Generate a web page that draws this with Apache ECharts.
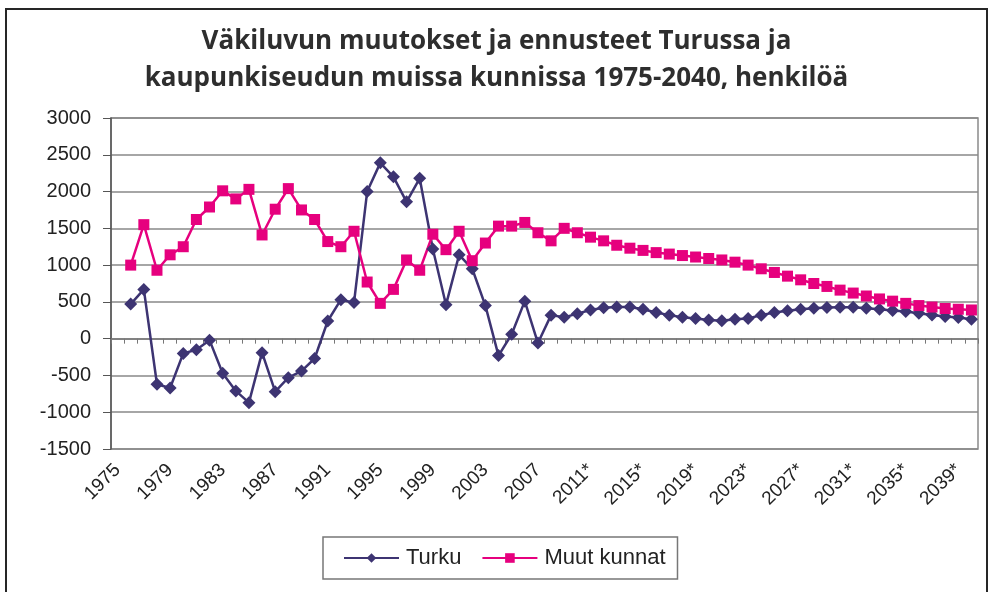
<!DOCTYPE html>
<html>
<head>
<meta charset="utf-8">
<script src="https://cdn.jsdelivr.net/npm/echarts@6/dist/echarts.min.js"></script>
<style>
html,body{margin:0;padding:0;background:#fff;}
#frame{position:absolute;left:5px;top:8px;width:983px;height:600px;border:2px solid #262626;box-sizing:border-box;}
#chart{position:absolute;left:0;top:0;width:993px;height:592px;}
</style>
</head>
<body>
<div id="frame"></div>
<div id="chart"></div>
<script>
const titleLines = ["Väkiluvun muutokset ja ennusteet Turussa ja", "kaupunkiseudun muissa kunnissa 1975-2040, henkilöä"];
const years = ["1975","1976","1977","1978","1979","1980","1981","1982","1983","1984","1985","1986","1987","1988","1989","1990","1991","1992","1993","1994","1995","1996","1997","1998","1999","2000","2001","2002","2003","2004","2005","2006","2007","2008*","2009*","2010*","2011*","2012*","2013*","2014*","2015*","2016*","2017*","2018*","2019*","2020*","2021*","2022*","2023*","2024*","2025*","2026*","2027*","2028*","2029*","2030*","2031*","2032*","2033*","2034*","2035*","2036*","2037*","2038*","2039*","2040*"];
const turku = [null,470,670,-620,-670,-200,-150,-20,-470,-710,-870,-190,-720,-530,-440,-270,240,530,490,2000,2390,2200,1860,2180,1220,460,1140,950,450,-230,60,510,-60,320,290,340,390,420,430,430,400,355,320,290,275,255,245,265,275,320,355,380,400,415,423,428,428,415,400,382,368,346,323,300,287,265];
const muut = [null,1000,1550,930,1140,1250,1620,1790,2010,1900,2030,1410,1760,2040,1750,1620,1320,1250,1460,770,480,670,1070,930,1420,1210,1460,1060,1300,1530,1530,1580,1440,1330,1500,1440,1380,1330,1270,1230,1200,1170,1150,1130,1110,1090,1070,1040,1000,950,900,850,800,750,710,660,620,580,540,510,480,450,430,410,400,390];
const yTicks = {min:-1500, max:3000, step:500};

const chart = echarts.init(document.getElementById('chart'));
const TURKU_COLOR = '#3d3472';
const MUUT_COLOR = '#e6007e';
const titleStyle = {fontFamily:'Open Sans', fontWeight:'bold', fontSize:26, color:'#2e2e2e'};
chart.setOption({
  animation:false,
  backgroundColor:'transparent',
  title:[
    {text:titleLines[0], left:'center', top:29, padding:0, textStyle:titleStyle},
    {text:titleLines[1], left:'center', top:66, padding:0, textStyle:titleStyle}
  ],
  grid:{left:111, right:15, top:118, bottom:143, show:true, borderColor:'#8a8a8a', borderWidth:1.5},
  legend:{
    left:323, top:537,
    padding:[10,12,10,20],
    borderColor:'#777', borderWidth:1.5,
    itemWidth:55, itemHeight:12, itemGap:20,
    textStyle:{fontFamily:'Liberation Sans', fontSize:22, color:'#222', padding:[0,0,0,2]},
    data:['Turku','Muut kunnat']
  },
  xAxis:[
    {type:'category', data:years, boundaryGap:true, position:'bottom',
     axisLine:{onZero:true, lineStyle:{color:'#777', width:1.5}},
     axisTick:{show:true, interval:0, length:5, inside:false, lineStyle:{color:'#777'}},
     axisLabel:{show:false}, splitLine:{show:false}},
    {type:'category', data:years, boundaryGap:true, position:'bottom',
     axisLine:{show:false}, axisTick:{show:false},
     axisLabel:{interval:3, rotate:45, margin:18, fontFamily:'Liberation Sans', fontSize:19, color:'#222'},
     splitLine:{show:false}}
  ],
  yAxis:{type:'value', min:yTicks.min, max:yTicks.max, interval:yTicks.step,
    axisLine:{show:true, lineStyle:{color:'#555', width:1.5}},
    axisTick:{show:true, length:8, lineStyle:{color:'#555'}},
    axisLabel:{margin:20, fontFamily:'Liberation Sans', fontSize:20, color:'#222', formatter:function(v){return String(v);}},
    splitLine:{lineStyle:{color:'#888', width:1.5}}
  },
  series:[
    {name:'Turku', type:'line', xAxisIndex:0, data:turku, symbol:'diamond', symbolSize:13, showAllSymbol:true,
     lineStyle:{color:TURKU_COLOR, width:2.5}, itemStyle:{color:TURKU_COLOR}, connectNulls:false},
    {name:'Muut kunnat', type:'line', xAxisIndex:0, data:muut, symbol:'rect', symbolSize:11, showAllSymbol:true,
     lineStyle:{color:MUUT_COLOR, width:2.5}, itemStyle:{color:MUUT_COLOR}}
  ]
});
</script>
</body>
</html>
